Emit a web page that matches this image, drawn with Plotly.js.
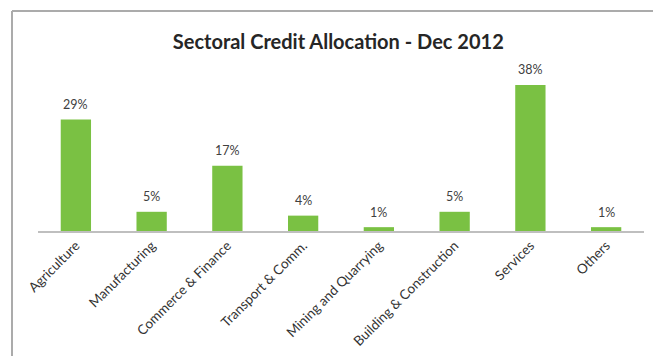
<!DOCTYPE html>
<html><head><meta charset="utf-8">
<script src="https://cdn.plot.ly/plotly-3.0.1.min.js"></script>
<style>html,body{margin:0;padding:0;background:#fff;}#chart{width:653px;height:356px;}</style>
</head><body><div id="chart"></div>
<script>
const sectors = ["Agriculture","Manufacturing","Commerce & Finance","Transport & Comm.","Mining and Quarrying","Building & Construction","Services","Others"];
const shares = [29,5,17,4,1,5,38,1];
const shareLabels = ["29%","5%","17%","4%","1%","5%","38%","1%"];

const FONT = 'Lato, "Open Sans", sans-serif';
const trace = {
  type: 'bar', x: sectors, y: shares,
  marker: {color: '#7ac143'}, hoverinfo: 'none'
};
const labelAnnotations = sectors.map((s, i) => ({
  x: s, y: shares[i], xref: 'x', yref: 'y', text: shareLabels[i],
  showarrow: false, yanchor: 'middle', yshift: 15,
  font: {family: FONT, size: 12.5, color: '#404040'}
}));
const L = 38, R = 653-644, T = 75, B = 356-231;
const pw = 653 - L - R, ph = 356 - T - B;
const layout = {
  width: 653, height: 356,
  margin: {l: L, r: R, t: T, b: B},
  paper_bgcolor: '#fff', plot_bgcolor: '#fff',
  title: {text: '<b>Sectoral Credit Allocation - Dec 2012</b>', font: {family: FONT, size: 20, color: '#262626'}, x: 0.518, xanchor: 'center', y: 0.882, yanchor: 'middle'},
  bargap: 0.6,
  showlegend: false,
  annotations: labelAnnotations,
  xaxis: {showline: true, linecolor: '#bfbfbf', linewidth: 1.5, ticks: '', tickangle: -45, tickfont: {family: FONT, size: 13.5, color: '#333333'}, fixedrange: true},
  yaxis: {range: [0, 40.6], visible: false, showgrid: false, zeroline: false, fixedrange: true},
  shapes: [
    {type: 'line', xref: 'paper', yref: 'paper', x0: (12-L)/pw, x1: (653-L)/pw, y0: (356-B-11)/ph, y1: (356-B-11)/ph, line: {color: '#ababab', width: 2}},
    {type: 'line', xref: 'paper', yref: 'paper', x0: (12-L)/pw, x1: (12-L)/pw, y0: (356-B-11)/ph, y1: (356-B-360)/ph, line: {color: '#ababab', width: 2}}
  ]
};
Plotly.newPlot('chart', [trace], layout, {displayModeBar: false, staticPlot: true});
</script></body></html>
